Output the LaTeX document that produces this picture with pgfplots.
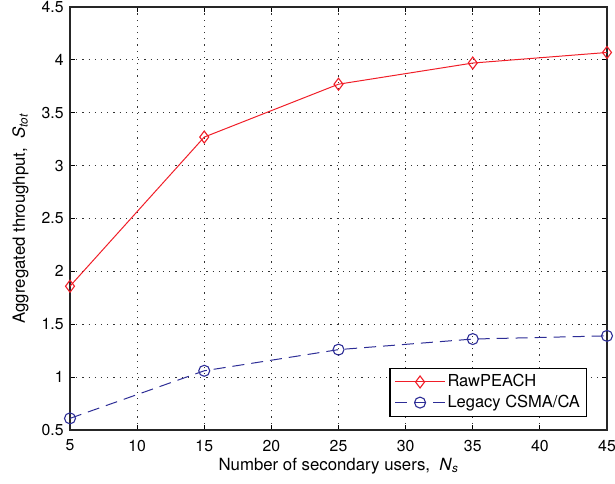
\documentclass[border=0pt]{standalone}
\usepackage{pgfplots}
\pgfplotsset{compat=1.18}
\usetikzlibrary{calc}
\usepackage{fontspec}
\setmainfont{TeX Gyre Heros}
\definecolor{myred}{RGB}{240,30,40}
\definecolor{myblue}{RGB}{45,45,150}
\begin{document}
\fontsize{15.5bp}{18bp}\selectfont
\begin{tikzpicture}
\begin{axis}[
  scale only axis,
  width=537bp, height=423bp,
  xmin=5, xmax=45, ymin=0.5, ymax=4.5,
  xtick={5,10,...,45},
  ytick={0.5,1,...,4.5},
  yticklabel style={/pgf/number format/fixed, xshift=-1bp},
  xticklabel style={yshift=-4.5bp},
  /pgf/number format/assume math mode=true,
  tick label style={font=\fontsize{15.8bp}{18bp}\selectfont},
  label style={font=\fontsize{16.8bp}{19bp}\selectfont},
  grid=major,
  major grid style={black!80, dash pattern=on 1.2bp off 5bp, line width=0.9pt},
  tick align=inside,
  tick style={black, line width=0.9pt},
  major tick length=5bp,
  axis line style={black!85, line width=1.5pt},
  xlabel={Number of secondary users,\ \ \textit{N}\textsubscript{\textit{s}}},
  ylabel={Aggregated throughput,\ \ \textit{S}\textsubscript{\textit{tot}}},
  xlabel style={at={(axis description cs:0.5,-0.0946)}, anchor=base},
  ylabel style={at={(axis description cs:-0.0838,0.5)}, anchor=base},
  legend style={at={(0.9628,0.0307)}, anchor=south east, draw=black, line width=1.2pt,
    font=\fontsize{16.5bp}{19bp}\selectfont, inner sep=4.5bp, row sep=2bp, cells={anchor=west}},
  legend image code/.code={\draw[mark repeat=2,mark phase=2] plot coordinates {(0bp,0bp) (25bp,0bp) (50bp,0bp)};},
  legend cell align=left,
]
\addplot[myred, line width=1pt, mark=diamond, mark size=6bp, mark options={solid, line width=1.1pt}]
 coordinates {(5,1.86) (15,3.27) (25,3.77) (35,3.97) (45,4.07)};
\addlegendentry{RawPEACH}
\addplot[myblue, line width=1pt, dash pattern=on 12bp off 7bp, mark=o, mark size=5.5bp, mark options={solid, line width=1.1pt}]
 coordinates {(5,0.61) (15,1.06) (25,1.26) (35,1.36) (45,1.39)};
\addlegendentry{Legacy CSMA/CA}
\end{axis}
\pgfresetboundingbox
\path[use as bounding box] ($(current axis.south west)+(-70bp,-54bp)$) rectangle ($(current axis.north east)+(8bp,7bp)$);
\end{tikzpicture}
\end{document}
